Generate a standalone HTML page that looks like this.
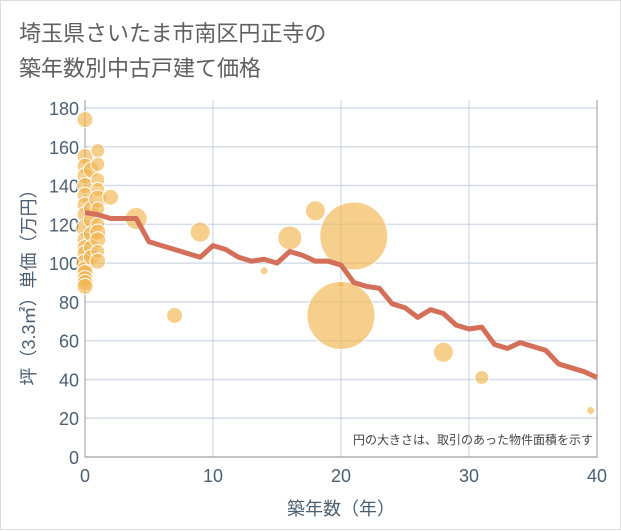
<!DOCTYPE html>
<html><head><meta charset="utf-8"><style>
body{margin:0;background:#fff;}
#c{width:621px;height:530px;position:relative;background:#fff;border:1px solid #ddd;box-sizing:border-box;font-family:"Liberation Sans","Noto Sans CJK JP",sans-serif;}
.t{position:absolute;left:18px;top:15px;font-size:22px;line-height:35px;color:#5f5f5f;}
</style></head><body>
<div id="c">
<div class="t">埼玉県さいたま市南区円正寺の<br>築年数別中古戸建て価格</div>
<svg id="s" width="621" height="530" style="position:absolute;left:0;top:0"></svg>
</div>
<script>
const xTicks=[0,10,20,30,40];
const yTicks=[0,20,40,60,80,100,120,140,160,180];
const lineYears=[0,1,2,3,4,5,6,7,8,9,10,11,12,13,14,15,16,17,18,19,20,21,22,23,24,25,26,27,28,29,30,31,32,33,34,35,36,37,38,39,40];
const linePrices=[126,125,123,123,123,111,109,107,105,103,109,107,103,101,102,100,106,104,101,101,99,90,88,87,79,77,72,76,74,68,66,67,58,56,59,57,55,48,46,44,41];
const bubbleYears=[0,0,0,0,0,0,0,0,0,0,0,0,0,0,0,0,0,0,0.5,0.5,0.5,0.5,0.5,0.5,1,1,1,1,1,1,1,1,1,1,1,2,4,7,9,14,16,18,20,20,21,28,31,39.5];
const bubblePrices=[174,155,150,145,140,135,130,125,118,112,108,105,100,97,95,92,90,88,148,128,122,115,108,103,158,151,143,138,133,128,120,116,112,106,101,134,123,73,116,96,113,127,89,73,114,54,41,24];
const bubbleSizes=[8,8,8,8,8,8,8,8,9,8,8,8,9,8,8,8,8,8,8,8,8,8,8,8,7,7,7,7,9,7,7,8,8,7,8,8,11,8,10,4,12,10,3,34,34,10,7,4];
const X0=84,X1=596,Y0=456,Y1=107;
const sx=v=>X0+(X1-X0)*v/40, sy=v=>Y0-(Y0-Y1)*v/180;
const s=document.getElementById('s');const NS='http://www.w3.org/2000/svg';
function mk(t,a,p){const e=document.createElementNS(NS,t);for(const k in a)e.setAttribute(k,a[k]);(p||s).appendChild(e);return e;}
yTicks.forEach(v=>{const l=mk('line',{x1:X0,x2:X1,y1:sy(v),y2:sy(v),stroke:'#d5dde8','stroke-width':1.5});

const t=mk('text',{x:X0-6,y:sy(v)+7,'text-anchor':'end','font-size':18,fill:'#4d5f73'});t.textContent=v;
});
xTicks.forEach(v=>{const l=mk('line',{x1:sx(v),x2:sx(v),y1:Y1-8,y2:Y0,stroke:'#c5d0dc','stroke-width':1});

const t=mk('text',{x:sx(v),y:Y0+25,'text-anchor':'middle','font-size':18,fill:'#4d5f73'});t.textContent=v;
});
const ax=mk('path',{d:`M${X0} ${Y1-8}V${Y0}H${X1}V${Y1-8}`,fill:'none',stroke:'#999','stroke-width':1});

bubbleYears.forEach((v,i)=>{const c=mk('circle',{cx:sx(v),cy:sy(bubblePrices[i]),r:bubbleSizes[i],fill:'#f1b650','fill-opacity':0.65,stroke:'#fff','stroke-width':1});
});
const p=mk('polyline',{points:lineYears.map((v,i)=>sx(v)+','+sy(linePrices[i])).join(' '),fill:'none',stroke:'#d4705a','stroke-width':5,'stroke-linejoin':'round'});

const n=mk('text',{x:592,y:443,'text-anchor':'end','font-size':12,fill:'#444'});n.textContent='円の大きさは、取引のあった物件面積を示す';

const xt=mk('text',{x:340,y:514,'text-anchor':'middle','font-size':18,fill:'#4d5f73'});xt.textContent='築年数（年）';

const yt=mk('text',{x:0,y:0,'text-anchor':'middle','font-size':18,fill:'#4d5f73',transform:'translate(34,282) rotate(-90)'});yt.textContent='坪（3.3㎡）単価（万円）';

</script>
</body></html>
